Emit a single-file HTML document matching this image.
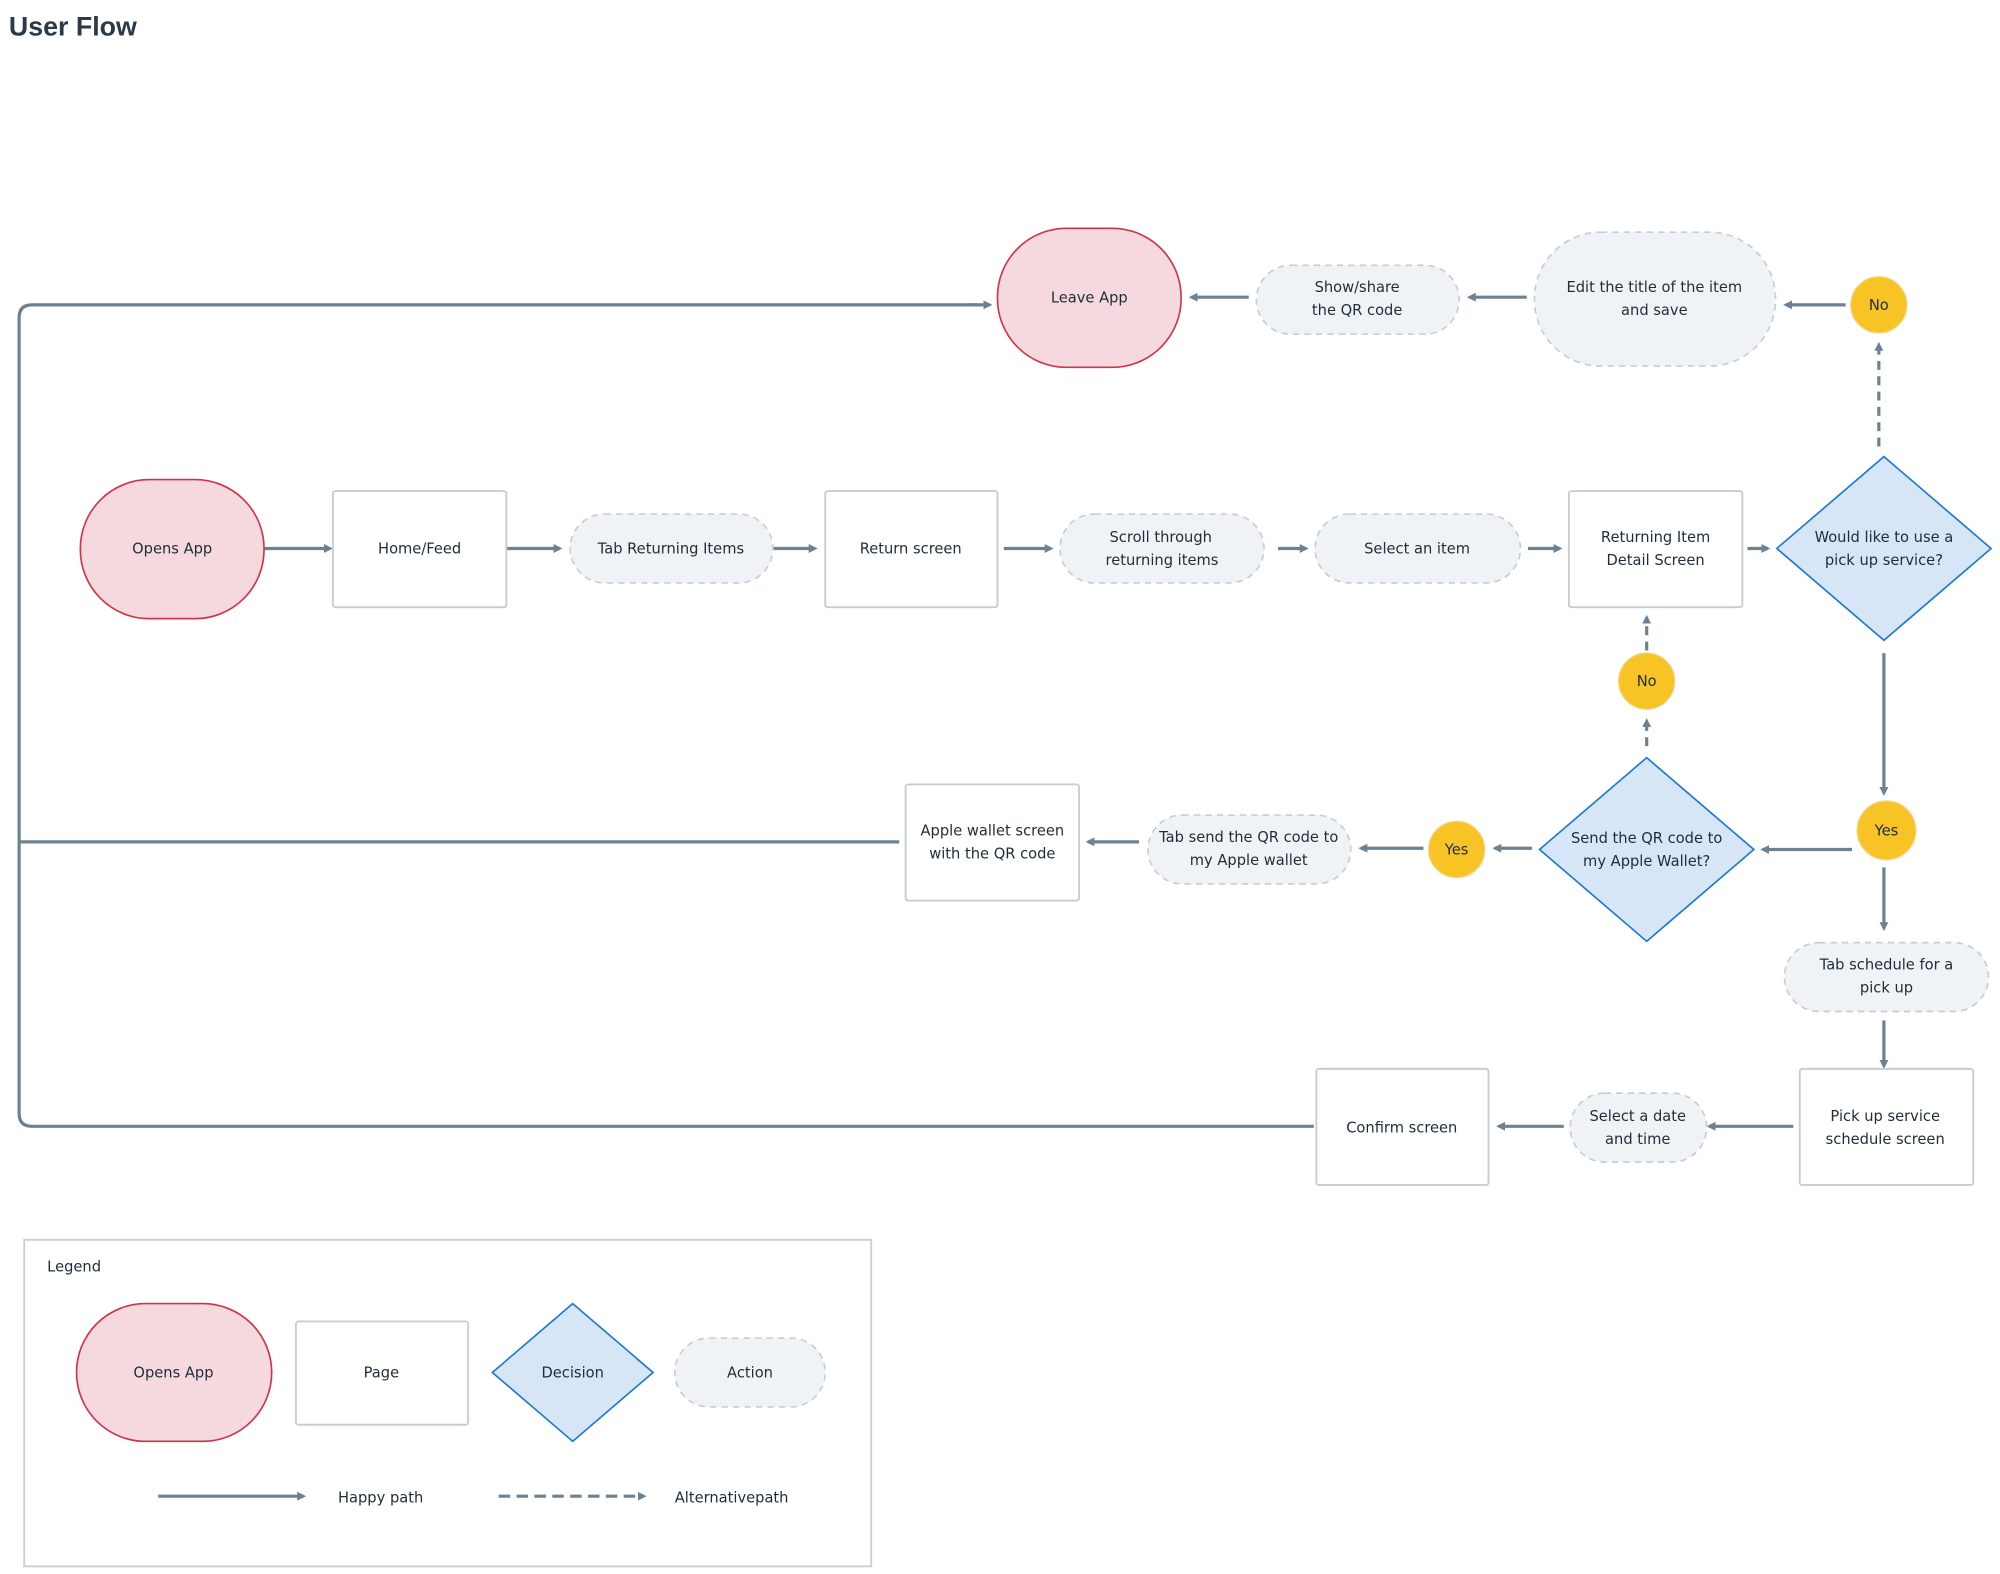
<!DOCTYPE html>
<html><head><meta charset="utf-8"><style>
html,body{margin:0;padding:0;background:#fff;}
svg{display:block;}
text{font-family:"DejaVu Sans","Liberation Sans",sans-serif;font-size:11.5px;fill:#1f2d3a;text-anchor:middle;}
</style></head><body>
<svg width="2000" height="1574" viewBox="0 0 1568 1234" xmlns="http://www.w3.org/2000/svg">
<defs>
<marker id="a" markerWidth="7" markerHeight="7" refX="5" refY="3.5" orient="auto" markerUnits="userSpaceOnUse" viewBox="0 0 7 7">
<path d="M0,0 L7,3.5 L0,7 z" fill="#6e8192"/></marker>
</defs>
<text x="7" y="28" style="font-size:21px;font-weight:bold;text-anchor:start;fill:#2a3a4a;font-family:'Liberation Sans',sans-serif">User Flow</text>

<g stroke="#6e8192" stroke-width="2.5" fill="none">
<path d="M766,239 H25 Q15,239 15,249 V873 Q15,883 25,883 H1030"/>
<line x1="760" y1="239" x2="776" y2="239" marker-end="url(#a)"/>
<path d="M15,660 H705"/>
<line x1="1447" y1="239" x2="1400" y2="239" marker-end="url(#a)"/>
<line x1="1197" y1="233" x2="1152" y2="233" marker-end="url(#a)"/>
<line x1="979" y1="233" x2="934" y2="233" marker-end="url(#a)"/>
<line x1="207" y1="430" x2="259" y2="430" marker-end="url(#a)"/>
<line x1="397" y1="430" x2="439" y2="430" marker-end="url(#a)"/>
<line x1="606" y1="430" x2="639" y2="430" marker-end="url(#a)"/>
<line x1="787" y1="430" x2="824" y2="430" marker-end="url(#a)"/>
<line x1="1002" y1="430" x2="1024" y2="430" marker-end="url(#a)"/>
<line x1="1198" y1="430" x2="1223" y2="430" marker-end="url(#a)"/>
<line x1="1370" y1="430" x2="1386" y2="430" marker-end="url(#a)"/>
<line x1="1477" y1="512" x2="1477" y2="622" marker-end="url(#a)"/>
<line x1="1452" y1="666" x2="1382" y2="666" marker-end="url(#a)"/>
<line x1="1201" y1="665" x2="1172" y2="665" marker-end="url(#a)"/>
<line x1="1116" y1="665" x2="1067" y2="665" marker-end="url(#a)"/>
<line x1="893" y1="660" x2="853" y2="660" marker-end="url(#a)"/>
<line x1="1477" y1="680" x2="1477" y2="728" marker-end="url(#a)"/>
<line x1="1477" y1="800" x2="1477" y2="836" marker-end="url(#a)"/>
<line x1="1406" y1="883" x2="1340" y2="883" marker-end="url(#a)"/>
<line x1="1226" y1="883" x2="1175" y2="883" marker-end="url(#a)"/>
<g stroke-dasharray="7,5">
<line x1="1473" y1="350" x2="1473" y2="270" marker-end="url(#a)"/>
<line x1="1291" y1="585" x2="1291" y2="565" marker-end="url(#a)"/>
<line x1="1291" y1="510" x2="1291" y2="484" marker-end="url(#a)"/>
</g>
</g>

<g fill="#f5d9de" stroke="#d0344a" stroke-width="1.3">
<rect x="782" y="179" width="144" height="109" rx="54"/>
<rect x="63" y="376" width="144" height="109" rx="54"/>
<rect x="60" y="1022" width="153" height="108" rx="54"/>
</g>
<g fill="#f0f3f6" stroke="#c5cdd6" stroke-width="1.3" stroke-dasharray="5,4">
<rect x="985" y="208" width="159" height="54" rx="27"/>
<rect x="1203" y="182" width="189" height="105" rx="52"/>
<rect x="447" y="403" width="159" height="54" rx="27"/>
<rect x="831" y="403" width="160" height="54" rx="27"/>
<rect x="1031" y="403" width="161" height="54" rx="27"/>
<rect x="900" y="639" width="159" height="54" rx="27"/>
<rect x="1399" y="739" width="160" height="54" rx="27"/>
<rect x="1231" y="857" width="107" height="54" rx="27"/>
<rect x="529" y="1049" width="118" height="54" rx="27"/>
</g>
<g fill="#fff" stroke="#c5cdd6" stroke-width="1.5">
<rect x="261" y="385" width="136" height="91" rx="2"/>
<rect x="647" y="385" width="135" height="91" rx="2"/>
<rect x="1230" y="385" width="136" height="91" rx="2"/>
<rect x="710" y="615" width="136" height="91" rx="2"/>
<rect x="1411" y="838" width="136" height="91" rx="2"/>
<rect x="1032" y="838" width="135" height="91" rx="2"/>
<rect x="232" y="1036" width="135" height="81" rx="2"/>
</g>
<g fill="#d6e6f6" stroke="#1f78d1" stroke-width="1.3">
<path d="M1477,358 L1561,430 L1477,502 L1393,430 z"/>
<path d="M1291,594 L1375,666 L1291,738 L1207,666 z"/>
<path d="M449,1022 L512,1076 L449,1130 L386,1076 z"/>
</g>
<g fill="#f7c325" stroke="#f1d580" stroke-width="1">
<circle cx="1473" cy="239" r="22"/>
<circle cx="1291" cy="534" r="22"/>
<circle cx="1479" cy="651" r="23"/>
<circle cx="1142" cy="666" r="22"/>
</g>

<rect x="19" y="972" width="664" height="256" fill="none" stroke="#c8d0d8" stroke-width="1.5"/>
<g stroke="#6e8192" stroke-width="2.5">
<line x1="124" y1="1173" x2="238" y2="1173" marker-end="url(#a)"/>
<line x1="391" y1="1173" x2="505" y2="1173" stroke-dasharray="9,5" marker-end="url(#a)"/>
</g>

<text x="854" y="237">Leave App</text>
<text x="1064" y="229">Show/share</text><text x="1064" y="247">the QR code</text>
<text x="1297" y="229">Edit the title of the item</text><text x="1297" y="247">and save</text>
<text x="1473" y="243">No</text>
<text x="135" y="434">Opens App</text>
<text x="329" y="434">Home/Feed</text>
<text x="526" y="434">Tab Returning Items</text>
<text x="714" y="434">Return screen</text>
<text x="910" y="425">Scroll through</text><text x="911" y="443">returning items</text>
<text x="1111" y="434">Select an item</text>
<text x="1298" y="425">Returning Item</text><text x="1298" y="443">Detail Screen</text>
<text x="1477" y="425">Would like to use a</text><text x="1477" y="443">pick up service?</text>
<text x="1291" y="538">No</text>
<text x="1479" y="655">Yes</text>
<text x="1291" y="661">Send the QR code to</text><text x="1291" y="679">my Apple Wallet?</text>
<text x="1142" y="670">Yes</text>
<text x="979" y="660">Tab send the QR code to</text><text x="979" y="678">my Apple wallet</text>
<text x="778" y="655">Apple wallet screen</text><text x="778" y="673">with the QR code</text>
<text x="1479" y="760">Tab schedule for a</text><text x="1479" y="778">pick up</text>
<text x="1478" y="879">Pick up service</text><text x="1478" y="897">schedule screen</text>
<text x="1284" y="879">Select a date</text><text x="1284" y="897">and time</text>
<text x="1099" y="888">Confirm screen</text>
<text x="37" y="997" style="text-anchor:start">Legend</text>
<text x="136" y="1080">Opens App</text>
<text x="299" y="1080">Page</text>
<text x="449" y="1080">Decision</text>
<text x="588" y="1080">Action</text>
<text x="265" y="1178" style="text-anchor:start">Happy path</text>
<text x="529" y="1178" style="text-anchor:start">Alternativepath</text>
</svg>
</body></html>
